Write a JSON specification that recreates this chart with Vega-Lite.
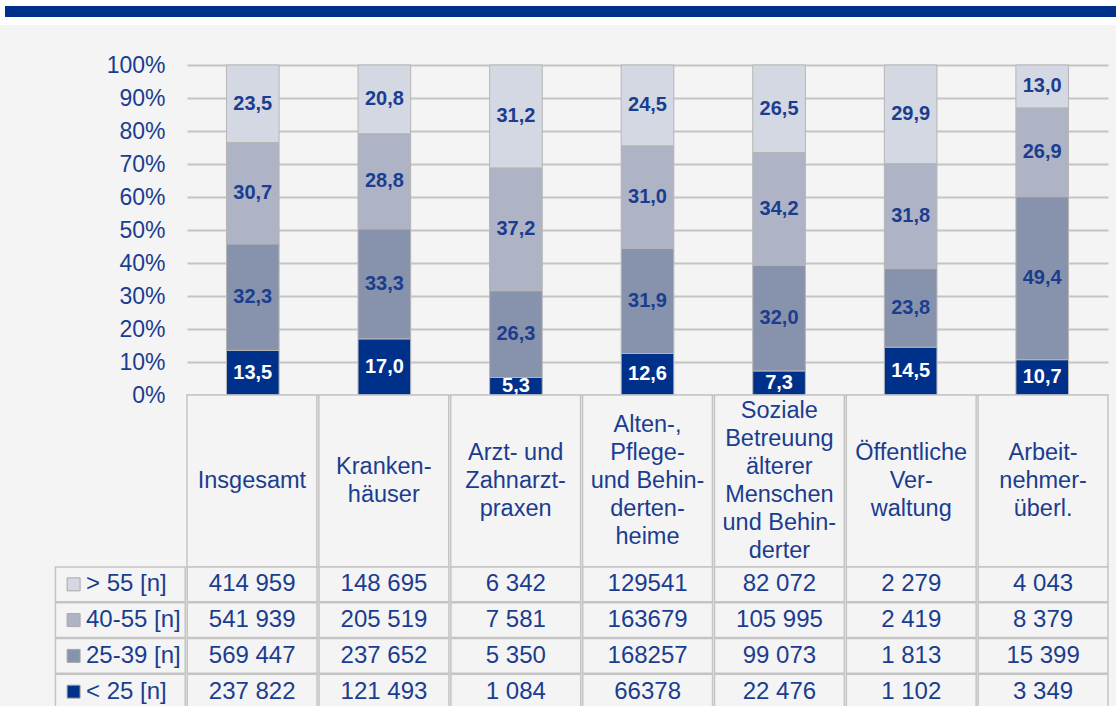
{
  "$schema": "https://vega.github.io/schema/vega-lite/v6.json",
  "background": "#f4f4f4",
  "padding": 0,
  "spacing": 0,
  "bounds": "flush",
  "config": {
    "view": {"stroke": null},
    "font": "Liberation Sans",
    "locale": {"number": {"decimal": ",", "thousands": " ", "grouping": [3], "currency": ["", " €"]}},
    "text": {"font": "Liberation Sans", "color": "#1b3d8f"}
  },
  "resolve": {"scale": {"color": "independent"}},
  "datasets": {
    "shares": [
      {"cat": "Insgesamt", "age": "< 25", "pct": 13.5, "n": "237 822"},
      {"cat": "Insgesamt", "age": "25-39", "pct": 32.3, "n": "569 447"},
      {"cat": "Insgesamt", "age": "40-55", "pct": 30.7, "n": "541 939"},
      {"cat": "Insgesamt", "age": "> 55", "pct": 23.5, "n": "414 959"},
      {"cat": "Kranken-|häuser", "age": "< 25", "pct": 17.0, "n": "121 493"},
      {"cat": "Kranken-|häuser", "age": "25-39", "pct": 33.3, "n": "237 652"},
      {"cat": "Kranken-|häuser", "age": "40-55", "pct": 28.8, "n": "205 519"},
      {"cat": "Kranken-|häuser", "age": "> 55", "pct": 20.8, "n": "148 695"},
      {"cat": "Arzt- und|Zahnarzt-|praxen", "age": "< 25", "pct": 5.3, "n": "1 084"},
      {"cat": "Arzt- und|Zahnarzt-|praxen", "age": "25-39", "pct": 26.3, "n": "5 350"},
      {"cat": "Arzt- und|Zahnarzt-|praxen", "age": "40-55", "pct": 37.2, "n": "7 581"},
      {"cat": "Arzt- und|Zahnarzt-|praxen", "age": "> 55", "pct": 31.2, "n": "6 342"},
      {"cat": "Alten-,|Pflege-|und Behin-|derten-|heime", "age": "< 25", "pct": 12.6, "n": "66378"},
      {"cat": "Alten-,|Pflege-|und Behin-|derten-|heime", "age": "25-39", "pct": 31.9, "n": "168257"},
      {"cat": "Alten-,|Pflege-|und Behin-|derten-|heime", "age": "40-55", "pct": 31.0, "n": "163679"},
      {"cat": "Alten-,|Pflege-|und Behin-|derten-|heime", "age": "> 55", "pct": 24.5, "n": "129541"},
      {"cat": "Soziale|Betreuung|älterer|Menschen|und Behin-|derter", "age": "< 25", "pct": 7.3, "n": "22 476"},
      {"cat": "Soziale|Betreuung|älterer|Menschen|und Behin-|derter", "age": "25-39", "pct": 32.0, "n": "99 073"},
      {"cat": "Soziale|Betreuung|älterer|Menschen|und Behin-|derter", "age": "40-55", "pct": 34.2, "n": "105 995"},
      {"cat": "Soziale|Betreuung|älterer|Menschen|und Behin-|derter", "age": "> 55", "pct": 26.5, "n": "82 072"},
      {"cat": "Öffentliche|Ver-|waltung", "age": "< 25", "pct": 14.5, "n": "1 102"},
      {"cat": "Öffentliche|Ver-|waltung", "age": "25-39", "pct": 23.8, "n": "1 813"},
      {"cat": "Öffentliche|Ver-|waltung", "age": "40-55", "pct": 31.8, "n": "2 419"},
      {"cat": "Öffentliche|Ver-|waltung", "age": "> 55", "pct": 29.9, "n": "2 279"},
      {"cat": "Arbeit-|nehmer-|überl.", "age": "< 25", "pct": 10.7, "n": "3 349"},
      {"cat": "Arbeit-|nehmer-|überl.", "age": "25-39", "pct": 49.4, "n": "15 399"},
      {"cat": "Arbeit-|nehmer-|überl.", "age": "40-55", "pct": 26.9, "n": "8 379"},
      {"cat": "Arbeit-|nehmer-|überl.", "age": "> 55", "pct": 13.0, "n": "4 043"}
    ],
    "groups": [
      {"age": "> 55"},
      {"age": "40-55"},
      {"age": "25-39"},
      {"age": "< 25"}
    ]
  },
  "vconcat": [
    {
      "width": 921,
      "height": 65,
      "data": {"values": [{}]},
      "layer": [
        {
          "mark": {"type": "rect", "fill": "#ffffff"},
          "encoding": {
            "x": {"datum": 0, "type": "quantitative", "scale": {"domain": [0, 1116], "range": [-187, 929], "nice": false, "zero": false}, "axis": null},
            "x2": {"datum": 1116},
            "y": {"datum": 0, "type": "quantitative", "scale": {"domain": [0, 65], "range": [0, 65], "nice": false, "zero": false}, "axis": null},
            "y2": {"datum": 25}
          }
        },
        {
          "mark": {"type": "rect", "fill": "#003087"},
          "encoding": {
            "x": {"datum": 5, "type": "quantitative"},
            "x2": {"datum": 1116},
            "y": {"datum": 6, "type": "quantitative"},
            "y2": {"datum": 17}
          }
        }
      ]
    },
    {
      "width": 921,
      "height": 330,
      "data": {"name": "shares"},
      "transform": [{"calculate": "indexof(['< 25', '25-39', '40-55', '> 55'], datum.age)", "as": "k"}],
      "encoding": {
        "x": {"field": "cat", "type": "nominal", "sort": null, "scale": {"paddingInner": 0.6, "paddingOuter": 0.3}, "axis": null},
        "y": {
          "field": "pct", "type": "quantitative", "stack": "normalize",
          "scale": {"domain": [0, 1]},
          "axis": {
            "title": null, "values": [0, 0.1, 0.2, 0.3, 0.4, 0.5, 0.6, 0.7, 0.8, 0.9, 1],
            "format": ".0%", "grid": true, "gridColor": "#c4c4c4", "gridWidth": 2,
            "domain": false, "ticks": false, "labelPadding": 22, "labelFontSize": 23,
            "labelColor": "#1b3d8f", "labelFont": "Liberation Sans"
          }
        },
        "order": {"field": "k", "type": "quantitative"}
      },
      "layer": [
        {
          "mark": {"type": "bar", "stroke": "#b5b5b5", "strokeWidth": 1},
          "encoding": {
            "color": {
              "field": "age", "type": "nominal", "sort": ["< 25", "25-39", "40-55", "> 55"],
              "scale": {"domain": ["< 25", "25-39", "40-55", "> 55"], "range": ["#00318a", "#8793ad", "#aeb3c6", "#d3d8e3"]},
              "legend": null
            }
          }
        },
        {
          "mark": {"type": "text", "fontSize": 20, "fontWeight": "bold"},
          "encoding": {
            "y": {"field": "pct", "type": "quantitative", "stack": "normalize", "bandPosition": 0.5},
            "text": {"field": "pct", "type": "quantitative", "format": ".1f"},
            "color": {
              "field": "age", "type": "nominal", "sort": ["< 25", "25-39", "40-55", "> 55"],
              "scale": {"domain": ["< 25", "25-39", "40-55", "> 55"], "range": ["#ffffff", "#1b3d8f", "#1b3d8f", "#1b3d8f"]},
              "legend": null
            }
          }
        }
      ],
      "resolve": {"scale": {"color": "independent"}}
    },
    {
      "width": 921,
      "height": 172,
      "data": {"name": "shares"},
      "transform": [
        {"filter": "datum.age === '< 25'"},
        {"calculate": "length(split(datum.cat, '|'))", "as": "nlines"}
      ],
      "encoding": {
        "x": {"field": "cat", "type": "nominal", "sort": null, "scale": {"paddingInner": 0.015, "paddingOuter": 0}, "axis": null}
      },
      "layer": [
        {"mark": {"type": "rect", "fill": "#f4f4f4", "stroke": "#c4c4c4", "strokeWidth": 1.5}},
        {
          "mark": {"type": "text", "fontSize": 23.5, "lineBreak": "|", "lineHeight": 28, "align": "center", "baseline": "middle"},
          "encoding": {
            "y": {"field": "nlines", "type": "quantitative", "scale": {"domain": [1, 6], "range": [86, 16], "nice": false, "zero": false}, "axis": null},
            "text": {"field": "cat"}
          }
        }
      ]
    },
    {
      "width": 921,
      "height": 142,
      "layer": [
        {
          "data": {"name": "shares"},
          "mark": {"type": "rect", "fill": "#f4f4f4", "stroke": "#c4c4c4", "strokeWidth": 1.5},
          "encoding": {
            "x": {"field": "cat", "type": "nominal", "scale": {"domain": ["row", "Insgesamt", "Kranken-|häuser", "Arzt- und|Zahnarzt-|praxen", "Alten-,|Pflege-|und Behin-|derten-|heime", "Soziale|Betreuung|älterer|Menschen|und Behin-|derter", "Öffentliche|Ver-|waltung", "Arbeit-|nehmer-|überl."], "range": [-131.57, 921], "paddingInner": 0.015, "paddingOuter": 0}, "axis": null},
            "y": {"field": "age", "type": "nominal", "scale": {"domain": ["> 55", "40-55", "25-39", "< 25"], "paddingInner": 0.03, "paddingOuter": 0}, "axis": null}
          }
        },
        {
          "data": {"name": "shares"},
          "mark": {"type": "text", "fontSize": 24},
          "encoding": {
            "x": {"field": "cat", "type": "nominal"},
            "y": {"field": "age", "type": "nominal"},
            "text": {"field": "n"}
          }
        },
        {
          "data": {"name": "groups"},
          "mark": {"type": "rect", "fill": "#f4f4f4", "stroke": "#c4c4c4", "strokeWidth": 1.5},
          "encoding": {
            "x": {"datum": "row", "type": "nominal"},
            "y": {"field": "age", "type": "nominal"}
          }
        },
        {
          "data": {"name": "groups"},
          "mark": {"type": "point", "shape": "square", "size": 169, "filled": true, "opacity": 1, "stroke": "#a8a8a8", "strokeWidth": 1},
          "encoding": {
            "x": {"datum": "row", "type": "nominal", "bandPosition": 0.14},
            "y": {"field": "age", "type": "nominal"},
            "color": {
              "field": "age", "type": "nominal",
              "scale": {"domain": ["< 25", "25-39", "40-55", "> 55"], "range": ["#00318a", "#8793ad", "#aeb3c6", "#d3d8e3"]},
              "legend": null
            }
          }
        },
        {
          "data": {"name": "groups"},
          "transform": [{"calculate": "datum.age + ' [n]'", "as": "label"}],
          "mark": {"type": "text", "fontSize": 24, "align": "left"},
          "encoding": {
            "x": {"datum": "row", "type": "nominal", "bandPosition": 0.235},
            "y": {"field": "age", "type": "nominal"},
            "text": {"field": "label"}
          }
        }
      ]
    }
  ]
}
